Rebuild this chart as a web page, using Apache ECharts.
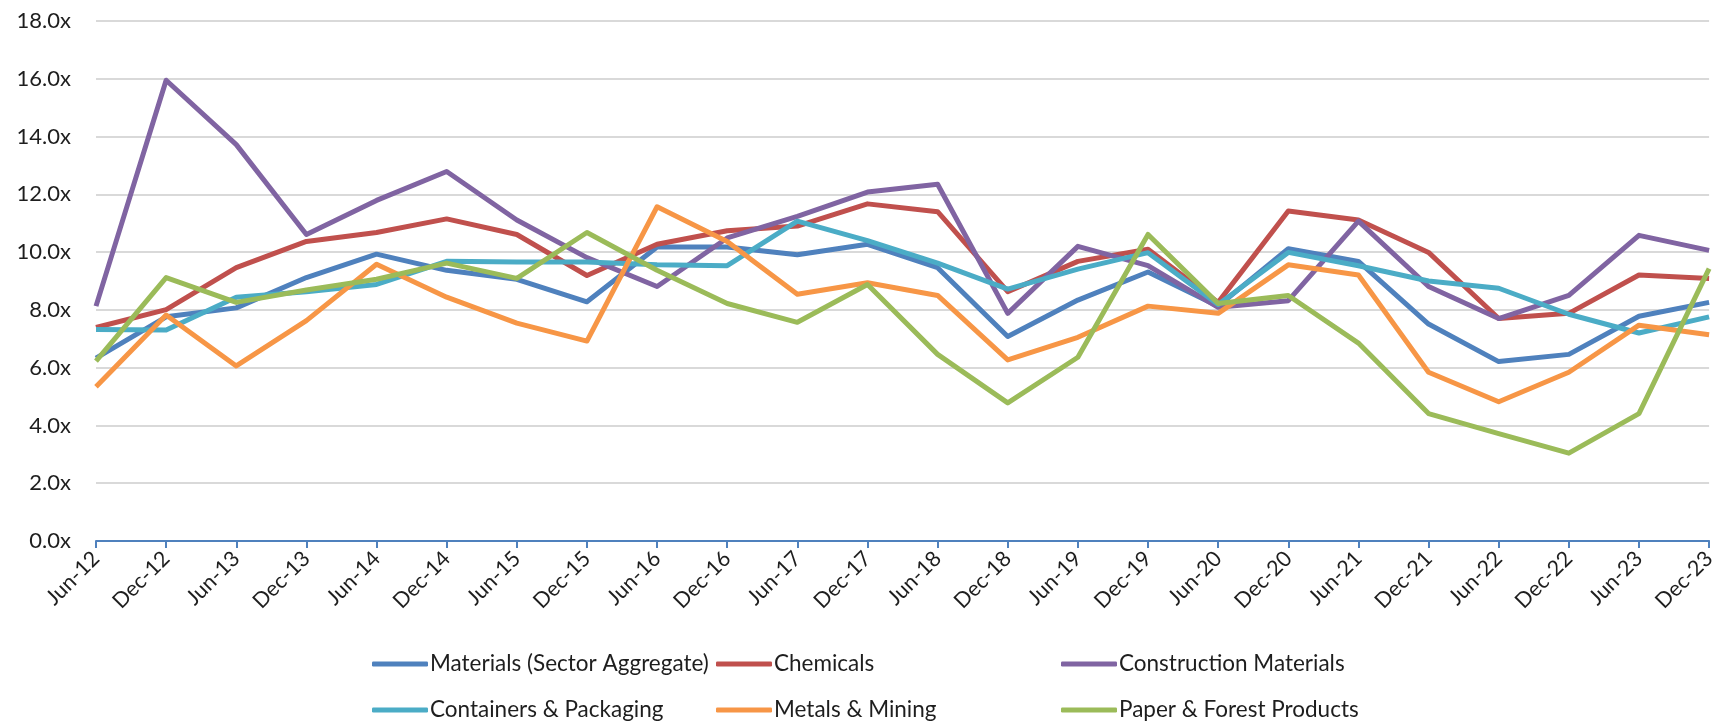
<!DOCTYPE html>
<html>
<head>
<meta charset="utf-8">
<script src="https://cdn.jsdelivr.net/npm/echarts@6/dist/echarts.min.js"></script>
<style>
  html, body { margin: 0; padding: 0; background: #fff; }
  #main { width: 1719px; height: 721px; }
</style>
</head>
<body>
<div id="main"></div>
<script>
// 半年度估值倍数
const categories = ['Jun-12', 'Dec-12', 'Jun-13', 'Dec-13', 'Jun-14', 'Dec-14', 'Jun-15', 'Dec-15',
  'Jun-16', 'Dec-16', 'Jun-17', 'Dec-17', 'Jun-18', 'Dec-18', 'Jun-19', 'Dec-19',
  'Jun-20', 'Dec-20', 'Jun-21', 'Dec-21', 'Jun-22', 'Dec-22', 'Jun-23', 'Dec-23']

const seriesNames = ['Materials (Sector Aggregate)', 'Chemicals', 'Construction Materials',
  'Containers & Packaging', 'Metals & Mining', 'Paper & Forest Products']

const materials = [6.33, 7.76, 8.07, 9.12, 9.93, 9.37, 9.06, 8.28, 10.18, 10.18, 9.91, 10.27,
  9.46, 7.08, 8.34, 9.31, 8.13, 10.12, 9.68, 7.51, 6.21, 6.46, 7.78, 8.26]
const chemicals = [7.39, 8.01, 9.46, 10.37, 10.68, 11.15, 10.61, 9.19, 10.27, 10.74, 10.9, 11.67,
  11.4, 8.63, 9.68, 10.1, 8.26, 11.42, 11.11, 9.99, 7.7, 7.88, 9.21, 9.09]
const construction = [8.13, 15.95, 13.72, 10.61, 11.79, 12.79, 11.11, 9.81, 8.81, 10.49, 11.24, 12.08,
  12.35, 7.88, 10.2, 9.53, 8.09, 8.32, 11.07, 8.81, 7.7, 8.5, 10.58, 10.06]
const containers = [7.32, 7.3, 8.44, 8.63, 8.88, 9.68, 9.66, 9.66, 9.56, 9.53, 11.07, 10.4,
  9.62, 8.72, 9.41, 9.98, 8.19, 9.99, 9.53, 9.0, 8.75, 7.85, 7.2, 7.76]
const metals = [5.34, 7.82, 6.06, 7.63, 9.58, 8.44, 7.54, 6.92, 11.57, 10.37, 8.54, 8.94,
  8.5, 6.27, 7.05, 8.13, 7.88, 9.56, 9.21, 5.84, 4.82, 5.84, 7.47, 7.14]
const paper = [6.23, 9.12, 8.26, 8.69, 9.06, 9.62, 9.09, 10.68, 9.37, 8.22, 7.57, 8.88,
  6.46, 4.78, 6.36, 10.61, 8.22, 8.5, 6.85, 4.41, 3.72, 3.04, 4.41, 9.43]

const colors = ['#4F81BD', '#C0504D', '#8064A2', '#4BACC6', '#F79646', '#9BBB59']
const allData = [materials, chemicals, construction, containers, metals, paper]

const fontFamily = 'Lato, "Open Sans", sans-serif'
const textColor = '#1e1e1e'

// 图例位置：两行三列
const legendPos = [
  { left: 372, top: 651 }, { left: 716, top: 651 }, { left: 1061, top: 651 },
  { left: 372, top: 697 }, { left: 716, top: 697 }, { left: 1061, top: 697 }
]

const chart = echarts.init(document.getElementById('main'))

const option = {
  animation: false,
  backgroundColor: '#fff',
  color: colors,
  grid: { left: 96, right: 2, top: 21, bottom: 180, containLabel: false },
  legend: seriesNames.map((name, i) => ({
    data: [name],
    left: legendPos[i].left,
    top: legendPos[i].top,
    icon: 'roundRect',
    itemWidth: 56,
    itemHeight: 5,
    padding: 0,
    selectedMode: false,
    textStyle: { fontFamily, fontSize: 22.5, color: textColor, padding: [0, 0, 0, -3], lineHeight: 26 }
  })),
  xAxis: {
    type: 'category',
    boundaryGap: false,
    data: categories,
    axisLine: { lineStyle: { color: '#4F81BD', width: 2 } },
    axisTick: { show: true, alignWithLabel: true, length: 7, lineStyle: { color: '#4F81BD', width: 2 } },
    axisLabel: {
      rotate: 45,
      interval: 0,
      margin: 14,
      fontFamily,
      fontSize: 21.5,
      color: textColor
    }
  },
  yAxis: {
    type: 'value',
    min: 0,
    max: 18,
    interval: 2,
    axisLine: { show: false },
    axisTick: { show: false },
    splitLine: { lineStyle: { color: '#D9D9D9', width: 2 } },
    axisLabel: {
      margin: 25,
      fontFamily,
      fontSize: 22,
      color: textColor,
      formatter: v => v.toFixed(1) + 'x'
    }
  },
  series: seriesNames.map((name, i) => ({
    name,
    type: 'line',
    data: allData[i],
    symbol: 'none',
    lineStyle: { width: 5, color: colors[i], join: 'round' },
    itemStyle: { color: colors[i] }
  }))
}

chart.setOption(option)
</script>
</body>
</html>
